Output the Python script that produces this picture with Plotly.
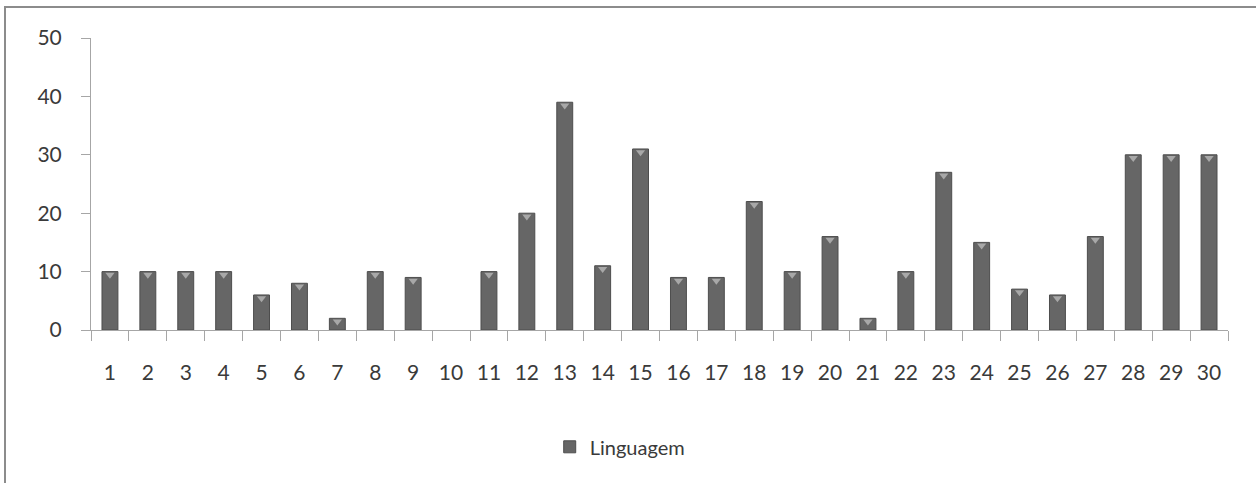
import plotly.graph_objects as go

# Pontuação de Linguagem por aluno
alunos = [str(i) for i in range(1, 31)]
linguagem = [10, 10, 10, 10, 6, 8, 2, 10, 9, 0,
             10, 20, 39, 11, 31, 9, 9, 22, 10, 16,
             2, 10, 27, 15, 7, 6, 16, 30, 30, 30]
y_ticks = [0, 10, 20, 30, 40, 50]

FONT = "Lato"
TEXT = "#3a3a3a"
AXIS = "#a6a6a6"

fig = go.Figure()

fig.add_trace(go.Bar(
    x=alunos, y=linguagem, name="Linguagem",
    width=0.42,
    marker=dict(color="#666666",
                line=dict(color="#4d4d4d",
                          width=[1 if v > 0 else 0 for v in linguagem])),
    showlegend=True,
))

# Bevel highlight at the top of each bar (drawn on a slightly shifted axis
# so the triangle sits just inside the bar)
fig.add_trace(go.Scatter(
    x=[a for a, v in zip(alunos, linguagem) if v > 0],
    y=[v for v in linguagem if v > 0],
    mode="markers",
    marker=dict(symbol="triangle-down", size=8, color="#a8a8a8", line=dict(width=0)),
    yaxis="y2", showlegend=False, hoverinfo="skip",
))

fig.update_layout(
    width=1256, height=483,
    margin=dict(l=91, r=28, t=38, b=153),
    paper_bgcolor="white", plot_bgcolor="white",
    font=dict(family=FONT, size=20, color=TEXT),
    xaxis=dict(
        type="category", tickson="boundaries", range=[-0.5, 29.5],
        ticks="outside", ticklen=10, tickcolor=AXIS, tickwidth=1,
        showline=True, linecolor=AXIS, linewidth=1,
        showgrid=False, zeroline=False,
        ticklabelstandoff=24,
        tickfont=dict(family=FONT, size=21, color=TEXT),
    ),
    yaxis=dict(
        range=[0, 50], tickvals=y_ticks,
        ticks="outside", ticklen=9, tickcolor=AXIS, tickwidth=1,
        showline=True, linecolor=AXIS, linewidth=1,
        showgrid=False, zeroline=False,
        ticklabelstandoff=15,
        tickfont=dict(family=FONT, size=21, color=TEXT),
    ),
    yaxis2=dict(range=[0.55, 50.55], overlaying="y", visible=False),
    legend=dict(
        orientation="h", x=0.465, xanchor="center",
        y=-0.40, yanchor="middle",
        font=dict(family=FONT, size=20, color=TEXT),
        bgcolor="rgba(0,0,0,0)",
    ),
    shapes=[dict(
        type="rect", xref="paper", yref="paper",
        x0=(5 - 91) / 1137, x1=(1262 - 91) / 1137,
        y0=-0.7, y1=(330 - 7) / 292,
        line=dict(color="#8c8c8c", width=2), layer="below",
    )],
)

fig.write_html("out.html")
